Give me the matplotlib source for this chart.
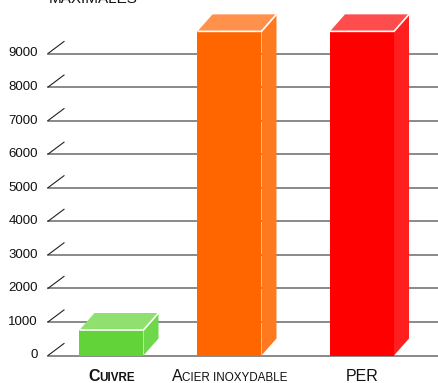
import numpy as np
import matplotlib
matplotlib.use('Agg')
from matplotlib import pyplot as plt
from matplotlib.patches import Polygon

# materials and their maximum values
materials = ['Cuivre', 'Acier inoxydable', 'PER']
values = [760, 9660, 9660]
bold = [True, False, False]
ticks = [0, 1000, 2000, 3000, 4000, 5000, 6000, 7000, 8000, 9000]

front = ['#62d338', '#ff6600', '#ff0000']
top = ['#90e070', '#ff914d', '#ff4d4d']
side = ['#6cd84a', '#ff7a1f', '#ff1f1f']

# layout (pixels)
W, H = 439, 383
centers = [111.5, 229.5, 362]
bw = 64
dx, dy = 15, 17       # bar depth
tdx, tdy = 16, 12     # tick diagonal
y0px, y9px = 355.5, 53.5
pxu = (y0px - y9px) / 9000.0
ytop = 9000 + y9px / pxu
ybot = -(H - y0px) / pxu

fig = plt.figure(figsize=(W / 100.0, H / 100.0), dpi=100)
ax = fig.add_axes([0, 0, 1, 1])
ax.set_xlim(0, W)
ax.set_ylim(ybot, ytop)
ax.axis('off')

def ypix(p):
    return ytop - p / pxu

fam = ['Liberation Sans', 'DejaVu Sans']

# grid + diagonal ticks
for t in ticks:
    ax.plot([48, W], [t, t], color='#6a6a6a', lw=1.1, zorder=1)
    ax.plot([48, 48 + tdx], [t, t + tdy / pxu], color='#222222', lw=0.8, zorder=1)
    ax.text(38, t, str(t), ha='right', va='center', fontsize=9.5,
            family=fam, color='#111111')

# 3d-looking bars
ddy = dy / pxu
for i, v in enumerate(values):
    x0 = centers[i] - bw / 2.0
    x1 = centers[i] + bw / 2.0
    ax.add_patch(Polygon([(x0, 0), (x1, 0), (x1, v), (x0, v)], closed=True,
                         fc=front[i], ec='none', zorder=3))
    ax.add_patch(Polygon([(x1, 0), (x1 + dx, ddy), (x1 + dx, v + ddy), (x1, v)],
                         closed=True, fc=side[i], ec='none', zorder=3))
    ax.add_patch(Polygon([(x0, v), (x1, v), (x1 + dx, v + ddy), (x0 + dx, v + ddy)],
                         closed=True, fc=top[i], ec='none', zorder=3))
    ax.plot([x0, x1, x1 + dx], [v, v, v + ddy], color='white', lw=1.2,
            zorder=4, solid_capstyle='butt')

# small caps category labels: capitals big, lowercase as small capitals
r = fig.canvas.get_renderer()

def smallcaps(xc, yv, word, weight, big=11.5, small=8.4):
    runs = []
    for ch in word:
        fs = big if ch.isupper() else small
        if runs and runs[-1][1] == fs:
            runs[-1][0] += ch.upper()
        else:
            runs.append([ch.upper(), fs])
    txts = []
    widths = []
    for s, fs in runs:
        t = ax.text(0, yv, s, ha='left', va='baseline', fontsize=fs,
                    family=fam, weight=weight, color='#111111')
        txts.append(t)
        widths.append(t.get_window_extent(renderer=r).width)
    x = xc - sum(widths) / 2.0
    for t, wd in zip(txts, widths):
        t.set_x(x)
        x += wd

for i, m in enumerate(materials):
    smallcaps(centers[i], ypix(381), m, 'bold' if bold[i] else 'normal')

ax.text(93, ypix(3), 'MAXIMALES', ha='center', va='baseline', fontsize=11,
        family=fam, color='#111111')

fig.savefig('out.png', dpi=100)
